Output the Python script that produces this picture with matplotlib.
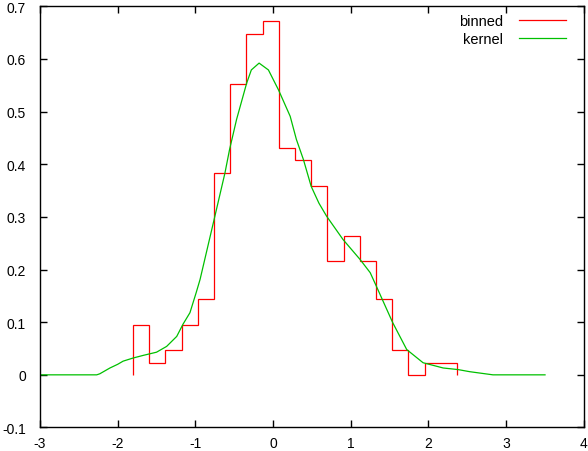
import numpy as np
import matplotlib
matplotlib.use('Agg')
import matplotlib.pyplot as plt

plt.rcParams['font.family'] = ['Liberation Sans', 'DejaVu Sans']
plt.rcParams['axes.unicode_minus'] = False

# histogram (density)
bin_edges = [-1.802, -1.594, -1.385, -1.177, -0.968, -0.760, -0.551, -0.343,
             -0.134, 0.074, 0.283, 0.491, 0.700, 0.908, 1.117, 1.325,
             1.534, 1.742, 1.951, 2.159, 2.368]
binned = [0.095, 0.023, 0.047, 0.095, 0.144, 0.383, 0.552, 0.648, 0.672, 0.431,
          0.408, 0.359, 0.216, 0.264, 0.216, 0.144, 0.047, 0.0, 0.023, 0.023]

# kernel density estimate
kernel_x = [-3.0, -2.27, -2.23, -2.10, -2.00, -1.93, -1.80, -1.67, -1.50, -1.37,
            -1.24, -1.16, -1.07, -0.99, -0.94, -0.77, -0.62, -0.56, -0.47, -0.34,
            -0.28, -0.18, -0.06, 0.07, 0.22, 0.30, 0.39, 0.49, 0.59, 0.69,
            0.90, 1.12, 1.25, 1.33, 1.54, 1.72, 1.93, 2.19, 2.38, 2.53, 2.83, 3.5]
kernel_y = [0.0, 0.0, 0.002, 0.013, 0.020, 0.026, 0.032, 0.037, 0.043, 0.054,
            0.073, 0.096, 0.118, 0.156, 0.181, 0.288, 0.383, 0.428, 0.485, 0.554,
            0.579, 0.592, 0.579, 0.541, 0.491, 0.447, 0.409, 0.358, 0.326, 0.301,
            0.257, 0.219, 0.194, 0.168, 0.099, 0.048, 0.023, 0.013, 0.010, 0.006, 0.0, 0.0]

fig = plt.figure(figsize=(5.88, 4.52), dpi=100)
ax = fig.add_axes([0.068, 0.052, 0.925, 0.932])

ax.stairs(binned, bin_edges, baseline=0, color='#ff0000', lw=0.9, label='binned')
ax.plot(kernel_x, kernel_y, color='#00c000', lw=0.9, label='kernel')

ax.set_xlim(-3, 4)
ax.set_ylim(-0.1, 0.7)
ax.set_xticks(range(-3, 5))
ax.set_yticks([-0.1, 0, 0.1, 0.2, 0.3, 0.4, 0.5, 0.6, 0.7])
ax.set_yticklabels(['-0.1', '0', '0.1', '0.2', '0.3', '0.4', '0.5', '0.6', '0.7'])
ax.tick_params(direction='in', length=5, width=1, top=True, right=True, labelsize=10)
ax.tick_params(axis='x', pad=6)
ax.tick_params(axis='y', pad=10)
for s in ax.spines.values():
    s.set_linewidth(1)

ax.legend(loc='upper right', markerfirst=False, frameon=False, fontsize=10.5,
          handlelength=3.2, handletextpad=1.1, labelspacing=0.25,
          borderaxespad=0.15, bbox_to_anchor=(0.982, 1.0))

plt.savefig('out.png', dpi=100)
